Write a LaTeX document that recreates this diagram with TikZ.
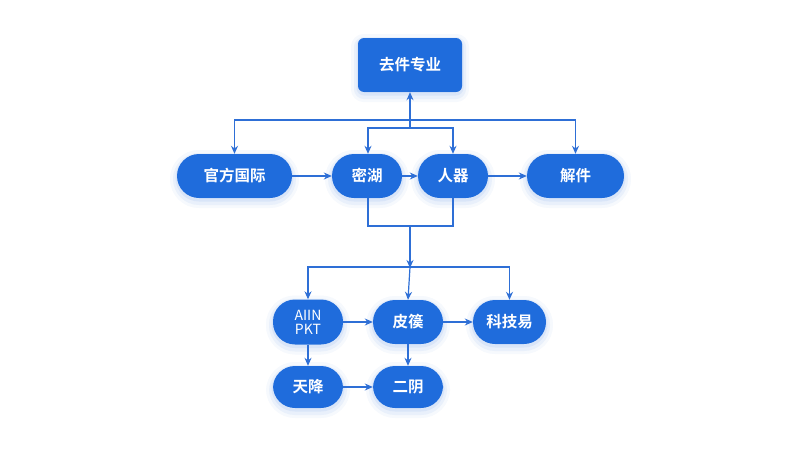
\documentclass[tikz,border=0pt]{standalone}
\usepackage{fontspec}
\newfontfamily\cjk{Noto Sans CJK SC}[BoldFont={Noto Sans CJK SC Bold}]
\usetikzlibrary{arrows.meta}
\definecolor{nodeblue}{HTML}{1F6CDC}
\definecolor{lineblue}{HTML}{2E6FD6}
\tikzset{
  glow/.style={
    preaction={draw=nodeblue, draw opacity=0.04, line width=14pt, transform canvas={yshift=-3pt}},
    preaction={draw=nodeblue, draw opacity=0.06, line width=8pt, transform canvas={yshift=-3pt}},
    preaction={draw=nodeblue, draw opacity=0.08, line width=3pt, transform canvas={yshift=-2pt}}},
  pill/.style={rectangle, fill=nodeblue, rounded corners=22pt, minimum height=44pt, inner sep=0pt,
    text=white, font=\cjk\bfseries\fontsize{15.5}{17}\selectfont, align=center, glow},
  topbox/.style={rectangle, fill=nodeblue, rounded corners=6pt, minimum width=104pt, minimum height=54pt, inner sep=0pt,
    text=white, font=\cjk\bfseries\fontsize{15.5}{17}\selectfont, glow},
  conn/.style={draw=lineblue, line width=1.2pt},
  arr/.style={conn, -{Stealth[length=8pt,width=7pt]}},
}
\begin{document}
\begin{tikzpicture}[x=1pt,y=-1pt]
\useasboundingbox[fill=white] (0,0) rectangle (800,450);
% nodes
\node[topbox] (top) at (410,65) {去件专业};
\node[pill, minimum width=115pt] (gf) at (234.5,176) {官方国际};
\node[pill, minimum width=70pt] (mh) at (367,176) {密湖};
\node[pill, minimum width=70pt] (rq) at (453,176) {人器};
\node[pill, minimum width=97pt] (jj) at (575.5,176) {解件};
\node[pill, minimum width=70pt, minimum height=45pt, font=\cjk\fontsize{14}{15}\selectfont] (ai) at (308,322) {AIIN\\[-1pt]PKT};
\node[pill, minimum width=70pt] (pf) at (408,322) {皮篌};
\node[pill, minimum width=73pt] (kj) at (509.5,322) {科技易};
\node[pill, minimum width=70pt, minimum height=42pt] (tj) at (308,387) {天降};
\node[pill, minimum width=70pt, minimum height=42pt] (ey) at (408,387) {二阴};
% coordinates
\coordinate (busA) at (410,120);
\coordinate (busB) at (410,128);
\coordinate (joinC) at (410,226);
\coordinate (busD) at (410,267);
% top buses
\draw[arr] (busA) -- (top.south);
\draw[conn] (busB) -- (busA);
\draw[arr] (busA) -| (gf.north);
\draw[arr] (busA) -| (jj.north);
\draw[arr] (busB) -| (mh.north -| 368,0);
\draw[arr] (busB) -| (rq.north -| 453,0);
% row 2 horizontals
\draw[arr] (gf.east) -- (mh.west);
\draw[arr] (mh.east) -- (rq.west);
\draw[arr] (rq.east) -- (jj.west);
% join below
\draw[conn] (mh.south -| 368,0) |- (joinC) -| (rq.south -| 453,0);
\draw[arr] (joinC) -- ([yshift=-1pt]busD);
% lower bus
\draw[arr] (busD) -| (ai.north);
\draw[arr] (busD) -- (pf.north);
\draw[arr] (busD) -| (kj.north);
% lower arrows
\draw[arr] (ai.east) -- (pf.west);
\draw[arr] (pf.east) -- (kj.west);
\draw[arr] (ai.south) -- (tj.north);
\draw[arr] (pf.south) -- (ey.north);
\draw[arr] (tj.east) -- (ey.west);
\end{tikzpicture}
\end{document}
